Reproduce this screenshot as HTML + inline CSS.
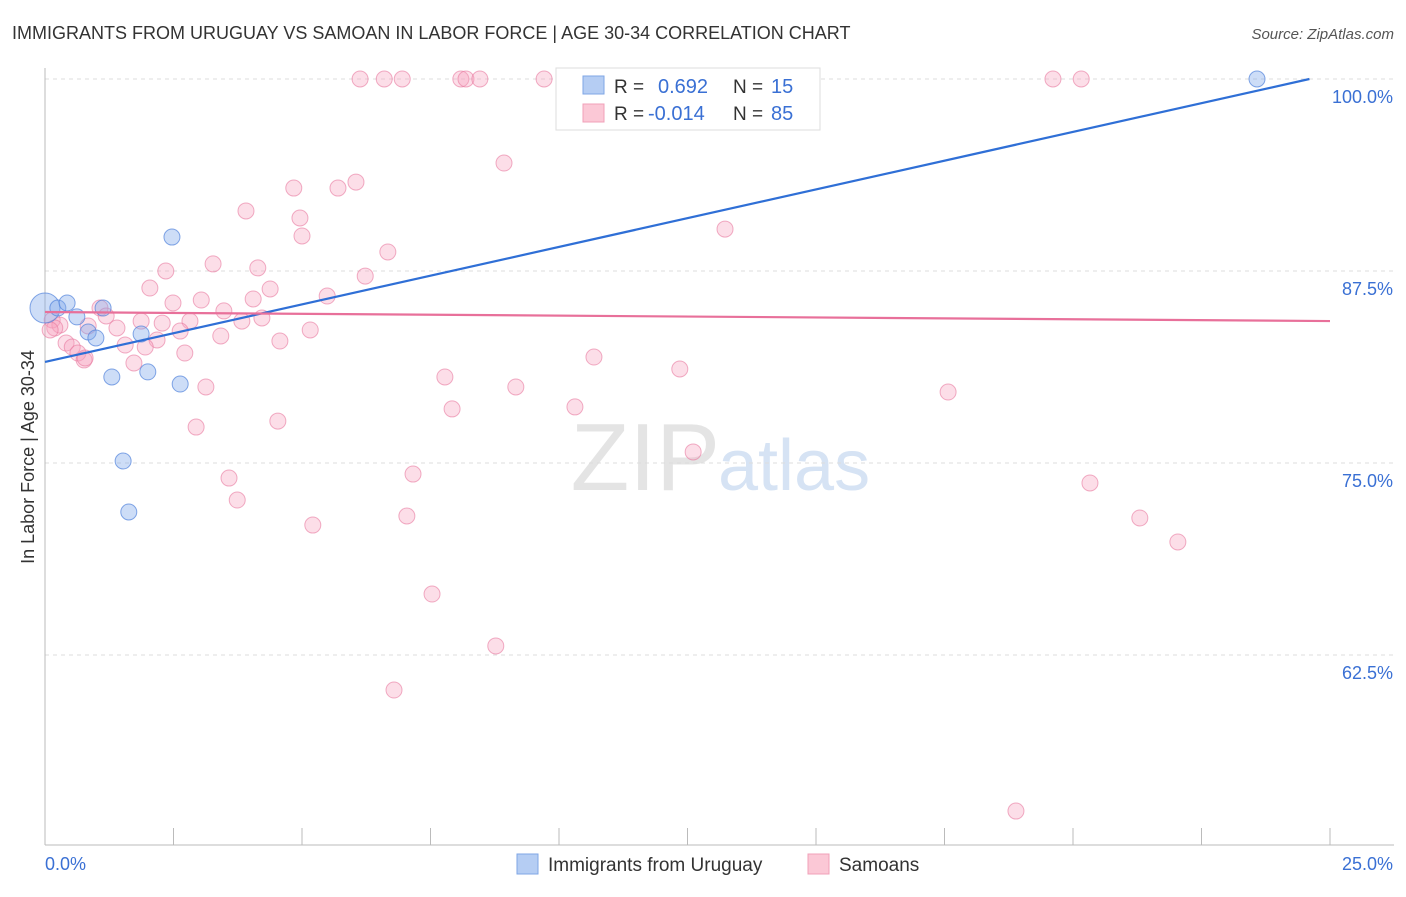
<!DOCTYPE html>
<html><head><meta charset="utf-8"><style>
body{margin:0;background:#fff;font-family:"Liberation Sans",sans-serif}
svg text{font-family:"Liberation Sans",sans-serif}
</style></head><body>
<svg id="chart" width="1406" height="892" xmlns="http://www.w3.org/2000/svg">
<text x="12" y="39" font-size="18" fill="#333">IMMIGRANTS FROM URUGUAY VS SAMOAN IN LABOR FORCE | AGE 30-34 CORRELATION CHART</text>
<text x="1394" y="39" font-size="15" fill="#555" font-style="italic" text-anchor="end">Source: ZipAtlas.com</text>
<text x="720" y="490" font-size="96" fill="#e4e4e4" text-anchor="end" font-family="Liberation Serif">ZIP</text>
<text x="718" y="490" font-size="72" fill="#d6e3f4">atlas</text>
<g id="grid"></g>
<g id="axes"></g>
<g id="marks"></g>
<text transform="translate(34,457) rotate(-90)" font-size="18" fill="#333" text-anchor="middle">In Labor Force | Age 30-34</text>
<g>
<rect x="556" y="68" width="264" height="62" fill="#fff" stroke="#ddd"/>
<rect x="583" y="76" width="21" height="18" fill="#b5cdf3" stroke="#7fa6e6"/>
<text x="614" y="93" font-size="19" fill="#333">R =</text>
<text x="658" y="93" font-size="20" fill="#3a70d4">0.692</text>
<text x="733" y="93" font-size="19" fill="#333">N =</text>
<text x="771" y="93" font-size="20" fill="#3a70d4">15</text>
<rect x="583" y="104" width="21" height="18" fill="#fbc8d6" stroke="#f0a0b8"/>
<text x="614" y="120" font-size="19" fill="#333">R =</text>
<text x="648" y="120" font-size="20" fill="#3a70d4">-0.014</text>
<text x="733" y="120" font-size="19" fill="#333">N =</text>
<text x="771" y="120" font-size="20" fill="#3a70d4">85</text>
</g>
<g>
<rect x="517" y="854" width="21" height="20" fill="#b5cdf3" stroke="#7fa6e6"/>
<text x="548" y="871" font-size="19" fill="#333">Immigrants from Uruguay</text>
<rect x="808" y="854" width="21" height="20" fill="#fbc8d6" stroke="#f0a0b8"/>
<text x="839" y="871" font-size="19" fill="#333">Samoans</text>
</g>
</svg>
<script>
const yTicks=[100,87.5,75,62.5];
const yTickLabels=["100.0%","87.5%","75.0%","62.5%"];
const xTicks=[0,2.5,5,7.5,10,12.5,15,17.5,20,22.5,25];
const xEndLabels=["0.0%","25.0%"];
const uruguayX=[0,0.25,0.43,1.13,0.62,0.84,0.99,1.87,1.30,2.00,2.63,2.47,1.52,1.63,23.58];
const uruguayY=[85.09,85.09,85.42,85.09,84.51,83.53,83.14,83.40,80.60,80.93,80.14,89.71,75.13,71.81,100];
const samoanX=[6.13,6.60,6.95,8.09,8.19,8.46,9.71,10.80,11.09,11.42,13.99,19.61,20.16,8.93,4.84,5.70,6.05,3.91,4.96,5.00,13.23,6.67,3.27,4.14,2.35,6.23,2.04,4.38,5.49,2.49,3.04,4.05,1.07,3.48,4.22,3.83,2.82,2.28,1.87,1.19,0.14,0.29,0.19,1.40,0.84,2.63,3.42,5.16,4.57,2.18,1.56,1.95,0.41,0.53,0.64,0.76,2.72,1.73,10.68,12.35,7.78,9.16,3.13,7.92,10.31,17.57,2.94,4.53,12.61,7.16,3.58,3.74,20.33,7.04,5.21,21.30,22.04,7.53,8.77,6.79,18.89,0.78,0.10];
const samoanY=[100,100,100,100,100,100,100,100,100,100,100,100,100,94.53,92.90,92.90,93.29,91.41,90.95,89.78,90.23,88.74,87.96,87.70,87.50,87.17,86.39,86.33,85.87,85.42,85.61,85.68,85.09,84.90,84.44,84.24,84.24,84.11,84.24,84.57,84.31,83.98,83.79,83.79,83.92,83.59,83.27,83.66,82.94,83.01,82.68,82.55,82.81,82.55,82.16,81.71,82.16,81.51,81.90,81.12,80.60,79.95,79.95,78.52,78.65,79.62,77.34,77.73,75.72,74.28,74.02,72.59,73.70,71.55,70.96,71.42,69.86,66.47,63.09,60.22,52.34,81.84,83.66];
const uruguayTrendX=[0,24.6];
const uruguayTrendY=[81.58,100];
const samoanTrendX=[0,25];
const samoanTrendY=[84.83,84.24];

const NS="http://www.w3.org/2000/svg";
const X0=45,X1=1330;
const sx=v=>X0+(v/25)*(X1-X0);
const sy=v=>79+(100-v)/12.5*192;
function mk(tag,attrs,parent){const e=document.createElementNS(NS,tag);for(const k in attrs)e.setAttribute(k,attrs[k]);document.getElementById(parent).appendChild(e);return e;}

yTicks.forEach((t,i)=>{
  const g=mk('line',{x1:45,x2:1394,y1:sy(t),y2:sy(t),stroke:'#ddd','stroke-dasharray':'4,4'},'grid');
  
  
  const l=mk('text',{x:1393,y:sy(t)+24,'font-size':18,fill:'#3a70d4','text-anchor':'end'},'axes');
  l.textContent=yTickLabels[i];
  
  
});
const ya=mk('line',{x1:45,x2:45,y1:68,y2:845,stroke:'#bbb'},'axes');


const xa=mk('line',{x1:45,x2:1394,y1:845,y2:845,stroke:'#bbb'},'axes');


xTicks.forEach(t=>{
  const k=mk('line',{x1:sx(t),x2:sx(t),y1:828,y2:845,stroke:'#bbb'},'axes');
  
  
});
const xl0=mk('text',{x:45,y:870,'font-size':18,fill:'#3a70d4'},'axes');
xl0.textContent=xEndLabels[0];


const xl1=mk('text',{x:1393,y:870,'font-size':18,fill:'#3a70d4','text-anchor':'end'},'axes');
xl1.textContent=xEndLabels[1];



samoanX.forEach((x,i)=>{
  const c=mk('circle',{cx:sx(x),cy:sy(samoanY[i]),r:8,fill:'rgba(245,160,188,0.35)',stroke:'rgba(232,120,158,0.6)','stroke-width':1},'marks');
  
  
});
uruguayX.forEach((x,i)=>{
  const c=mk('circle',{cx:sx(x),cy:sy(uruguayY[i]),r:i===0?15:8,fill:'rgba(130,170,235,0.4)',stroke:'rgba(80,130,220,0.7)','stroke-width':1},'marks');
  
  
});
const tb=mk('line',{x1:sx(uruguayTrendX[0]),y1:sy(uruguayTrendY[0]),x2:sx(uruguayTrendX[1]),y2:sy(uruguayTrendY[1]),stroke:'#2f6fd6','stroke-width':2.2},'marks');


const tp=mk('line',{x1:sx(samoanTrendX[0]),y1:sy(samoanTrendY[0]),x2:sx(samoanTrendX[1]),y2:sy(samoanTrendY[1]),stroke:'#e8709a','stroke-width':2.2},'marks');


</script>
</body></html>
